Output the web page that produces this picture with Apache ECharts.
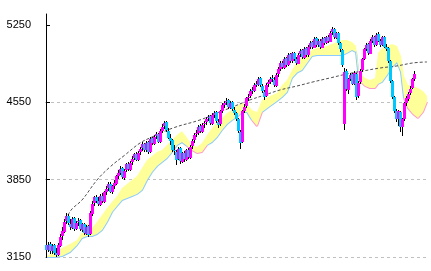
<!DOCTYPE html>
<html><head><meta charset="utf-8">
<script src="https://cdn.jsdelivr.net/npm/echarts@6/dist/echarts.min.js"></script>
<style>html,body{margin:0;padding:0;background:#fff}#c{width:431px;height:271px}</style>
</head><body><div id="c"></div>
<script>
// y-axis tick labels
const yTicks = [3150, 3850, 4550, 5250];
// daily candles: [open, close, low, high]
const candles = [
 [3260,3215,3190,3285],[3212,3262,3195,3290],[3268,3205,3180,3285],[3200,3250,3180,3272],[3255,3190,3165,3270],
 [3185,3170,3152,3230],[3165,3255,3158,3280],[3250,3330,3240,3355],[3340,3385,3300,3420],[3380,3470,3365,3495],
 [3475,3520,3445,3545],[3525,3455,3440,3540],[3450,3420,3395,3490],[3415,3495,3405,3515],[3500,3405,3385,3510],
 [3400,3460,3390,3480],[3465,3480,3430,3505],[3485,3400,3385,3495],[3395,3445,3375,3460],[3450,3365,3345,3460],
 [3360,3425,3345,3440],[3430,3350,3330,3440],[3360,3545,3350,3565],[3540,3630,3525,3655],[3635,3690,3610,3705],
 [3695,3660,3640,3715],[3655,3630,3610,3690],[3625,3700,3615,3720],[3705,3655,3640,3725],[3650,3735,3640,3750],
 [3740,3770,3715,3790],[3775,3810,3750,3830],[3815,3740,3725,3825],[3735,3790,3720,3805],[3795,3820,3770,3845],
 [3815,3880,3800,3895],[3885,3910,3860,3935],[3915,3950,3890,3970],[3955,3870,3855,3965],[3865,3930,3850,3945],
 [3935,3990,3920,4005],[3995,3945,3925,4010],[3940,4005,3930,4020],[4010,4040,3985,4060],[4045,4080,4025,4095],
 [4085,4030,4015,4100],[4025,4095,4015,4110],[4100,4130,4075,4150],[4135,4170,4110,4190],[4175,4120,4100,4185],
 [4115,4185,4105,4200],[4190,4105,4085,4200],[4100,4220,4090,4235],[4225,4180,4160,4240],[4175,4240,4165,4255],
 [4245,4260,4215,4280],[4265,4195,4180,4275],[4190,4290,4180,4305],[4295,4330,4270,4350],[4335,4365,4310,4385],
 [4370,4300,4285,4380],[4295,4230,4215,4320],[4225,4200,4160,4260],[4205,4120,4100,4215],[4115,4110,4070,4160],
 [4105,4030,3985,4120],[4035,4130,4025,4145],[4135,4015,3995,4150],[4010,4090,4000,4105],[4095,4035,4010,4110],
 [4030,4115,4020,4130],[4120,4055,4040,4135],[4050,4150,4040,4165],[4155,4200,4130,4220],[4205,4255,4180,4275],
 [4260,4270,4235,4300],[4275,4330,4255,4345],[4335,4290,4275,4350],[4285,4345,4275,4360],[4350,4365,4320,4385],
 [4370,4400,4345,4420],[4405,4420,4380,4440],[4425,4360,4345,4435],[4355,4435,4345,4450],[4440,4455,4410,4475],
 [4460,4380,4365,4470],[4375,4345,4320,4400],[4350,4470,4340,4485],[4475,4525,4450,4545],[4530,4545,4500,4565],
 [4550,4565,4525,4585],[4570,4505,4490,4580],[4500,4545,4490,4560],[4550,4490,4470,4560],[4485,4455,4435,4510],
 [4450,4400,4380,4465],[4395,4290,4270,4410],[4285,4180,4130,4300],[4190,4470,4180,4485],[4475,4510,4450,4535],
 [4515,4585,4500,4600],[4590,4600,4565,4630],[4605,4655,4590,4670],[4660,4650,4625,4690],[4655,4710,4640,4725],
 [4715,4705,4685,4745],[4710,4765,4700,4780],[4770,4705,4690,4780],[4700,4650,4635,4720],[4645,4600,4570,4665],
 [4605,4710,4595,4725],[4715,4730,4690,4755],[4735,4765,4715,4780],[4770,4760,4735,4795],[4755,4705,4690,4780],
 [4700,4800,4690,4815],[4805,4850,4780,4870],[4855,4905,4835,4925],[4910,4870,4850,4925],[4865,4945,4855,4960],
 [4950,4890,4870,4960],[4885,4980,4875,4995],[4985,4925,4910,4995],[4920,4995,4910,5010],[5000,4945,4925,5010],
 [4940,4905,4885,4965],[4900,4980,4895,4995],[4985,5015,4960,5035],[5020,4960,4945,5030],[4955,5035,4945,5050],
 [5040,4980,4965,5050],[4975,5050,4965,5065],[5055,5090,5035,5105],[5095,5050,5035,5110],[5045,5125,5040,5140],
 [5130,5070,5055,5140],[5065,5105,5050,5120],[5110,5050,5035,5120],[5045,5125,5040,5140],[5130,5090,5070,5140],
 [5085,5140,5075,5155],[5145,5105,5090,5160],[5100,5180,5095,5195],[5185,5210,5160,5235],[5215,5140,5125,5225],
 [5135,5175,5120,5190],[5180,5090,5070,5185],[5085,5030,5010,5095],[5025,4890,4870,5035],[4354,4825,4300,4862],
 [4830,4670,4650,4850],[4665,4760,4630,4775],[4765,4800,4740,4820],[4805,4720,4705,4815],[4715,4815,4705,4830],
 [4810,4600,4570,4820],[4605,4725,4590,4740],[4730,4835,4715,4850],[4840,4940,4825,4955],[4945,5030,4930,5045],
 [5035,5070,5015,5090],[5075,4995,4980,5085],[4990,5105,4985,5120],[5110,5140,5090,5160],[5145,5070,5055,5155],
 [5065,5160,5060,5175],[5165,5110,5095,5185],[5105,5070,5050,5120],[5065,5140,5060,5155],[5145,5055,5040,5150],
 [5050,5035,5015,5075],[5040,4925,4905,5050],[4920,4745,4725,4935],[4740,4600,4580,4755],[4595,4475,4455,4610],
 [4470,4400,4370,4490],[4395,4470,4335,4485],[4465,4330,4285,4475],[4325,4395,4250,4410],[4400,4540,4385,4555],
 [4545,4585,4520,4610],[4580,4630,4565,4645],[4635,4675,4615,4700],[4680,4760,4670,4775],[4765,4810,4745,4830]
];
// cloud (leading spans), positioned by day slot
const cloudX = [0.5,4.5,8,12,15.5,18,20.5,23,25.5,28,30.5,33,35.5,38,40.5,43,45.5,48,50.5,53,55.5,58,60.5,63,65.5,68,
 70.5,73,75.5,78,80.5,83,85.5,88,90.5,93,95.5,98,100.5,103,105.5,108,112,115.5,118,120.5,123,125.5,128,130.5,133,135.5,
 138,140.5,143,145.5,148,150.5,153,155,156.5,159.5,162,164.5,166,168,170.5,173,175.5,177.5,179,181,183.5,186,188.5,190.5];
const spanA = [3159,3195,3232,3268,3304,3376,3458,3413,3467,3530,3594,3648,3702,3775,3811,3847,3884,3956,4029,4065,4101,4119,4164,4210,4255,4291,
 4155,4119,4092,4101,4255,4318,4373,4409,4454,4481,4517,4545,4536,4391,4336,4572,4608,4635,4708,4753,4843,4916,4961,4988,5025,5043,
 5052,5061,5079,5097,5115,5115,5097,5061,4753,4699,4680,4680,4998,5043,5061,5079,5061,4970,4590,4499,4445,4409,4463,4554];
const spanB = [3150,3150,3159,3195,3259,3322,3340,3340,3358,3395,3467,3558,3612,3666,3684,3702,3721,3757,3847,3920,3974,4010,4047,4101,4164,4191,
 4228,4164,4146,4182,4164,4191,4237,4300,4354,4391,4418,4463,4463,4481,4463,4463,4517,4563,4599,4644,4771,4820,4843,4907,4970,4979,
 4979,4979,4979,4979,4979,4998,5025,5006,4825,4771,4753,4771,4717,4735,4798,4871,4916,4825,4789,4708,4699,4680,4653,4608];
// long-term trend curve
const trendX = [11,13,18,25.5,32,39.5,47,52,63.5,77,85.5,92,102,109.5,117,125.5,133.5,142,150.5,158.5,167,175.5,183.5,190.5];
const trendY = [3530,3585,3666,3847,3965,4074,4182,4228,4318,4391,4454,4499,4572,4617,4662,4698,4735,4771,4807,4834,4861,4880,4907,4916];

const slotCount = 191;
const slots = Array.from({length: slotCount}, (_, i) => 'D' + (i + 1));
const lower = spanA.map((a, i) => Math.min(a, spanB[i]));
const upper = spanA.map((a, i) => Math.max(a, spanB[i]));
const bLow = spanA.map((a, i) => spanB[i] <= a);
const blueEdge = cloudX.map((x, i) => [x, (bLow[i] || (i > 0 && bLow[i-1])) ? lower[i] : '-']);
const pinkEdge = cloudX.map((x, i) => [x, (!bLow[i] || (i > 0 && !bLow[i-1])) ? lower[i] : '-']);
const candleRows = candles.map((c, i) => [i, c[0], c[1], c[2], c[3]]);

const chart = echarts.init(document.getElementById('c'), null, {renderer: 'canvas'});
chart.setOption({
  animation: false,
  backgroundColor: '#fff',
  grid: {left: 45, right: 4, top: 14, bottom: 14, containLabel: false},
  xAxis: [
    {type: 'category', data: slots, boundaryGap: true, show: false},
    {type: 'value', min: -0.5, max: slotCount - 0.5, show: false}
  ],
  yAxis: {
    type: 'value', min: 3150, max: 5350, interval: 700, position: 'left',
    axisLine: {show: true, lineStyle: {color: '#000', width: 1}},
    axisTick: {show: true, inside: true, length: 4, lineStyle: {color: '#000'}, customValues: yTicks},
    axisLabel: {color: '#000', fontSize: 11, fontFamily: 'Liberation Sans', margin: 14, customValues: yTicks,
                formatter: v => String(v)},
    splitLine: {show: true, showMaxLine: false, lineStyle: {color: '#c0c0c0', type: [3, 3], width: 1}}
  },
  series: [
    {type: 'line', xAxisIndex: 1, data: blueEdge, symbol: 'none', silent: true, z: 1,
     lineStyle: {color: '#8ccaff', width: 2}},
    {type: 'line', xAxisIndex: 1, data: pinkEdge, symbol: 'none', silent: true, z: 1,
     lineStyle: {color: '#ff99cc', width: 2}},
    {type: 'custom', xAxisIndex: 1, yAxisIndex: 0, data: [[0, 3150]], silent: true, z: 2,
     renderItem: (params, api) => {
       const top = cloudX.map((x, i) => api.coord([x, upper[i]]));
       const bot = cloudX.map((x, i) => api.coord([x, lower[i]])).reverse();
       return {type: 'polygon', shape: {points: top.concat(bot)}, style: {fill: '#ffff99', stroke: null}};
     }},
    {type: 'line', xAxisIndex: 1, data: trendX.map((x, i) => [x, trendY[i]]), symbol: 'none', smooth: 0.4, silent: true, z: 3,
     lineStyle: {color: '#505050', width: 1, type: [3, 2]}},
    {type: 'custom', xAxisIndex: 0, yAxisIndex: 0, data: candleRows, silent: true, z: 4,
     encode: {x: 0, y: [1, 2, 3, 4]},
     renderItem: (params, api) => {
       const i = api.value(0), o = api.value(1), c = api.value(2), l = api.value(3), h = api.value(4);
       const pO = api.coord([i, o]), pC = api.coord([i, c]), pL = api.coord([i, l]), pH = api.coord([i, h]);
       const cx = Math.round(pO[0]);
       const yT = Math.round(Math.min(pO[1], pC[1])), yB = Math.round(Math.max(pO[1], pC[1]));
       return {type: 'group', children: [
         {type: 'rect', shape: {x: cx, y: Math.round(pH[1]), width: 1, height: Math.max(1, Math.round(pL[1]) - Math.round(pH[1]))},
          style: {fill: '#000'}},
         {type: 'rect', shape: {x: cx - 1, y: yT, width: 3, height: Math.max(1, yB - yT)},
          style: {fill: c >= o ? '#ff00ff' : '#00c8ff'}}
       ]};
     }}
  ]
});
</script>
</body></html>
